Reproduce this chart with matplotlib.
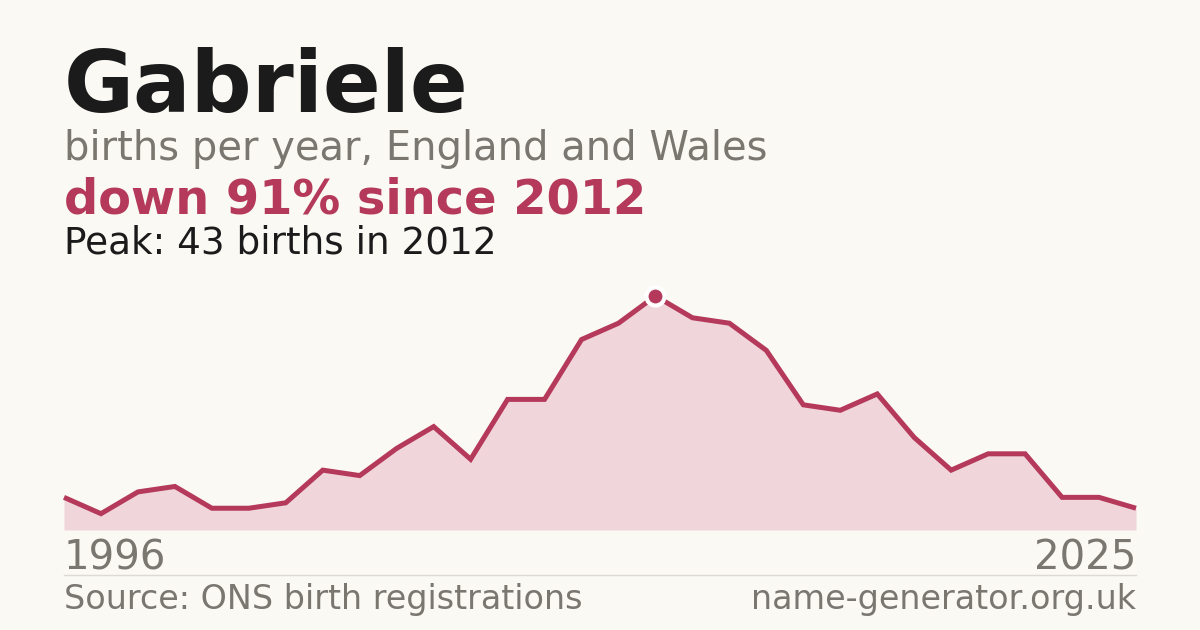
import numpy as np
import matplotlib.pyplot as plt

## births per year for Gabriele
years = np.arange(1996, 2026)
births = [6, 3, 7, 8, 4, 4, 5, 11, 10, 15, 19, 13, 24, 24, 35,
          38, 43, 39, 38, 33, 23, 22, 25, 17, 11, 14, 14, 6, 6, 4]

name = "Gabriele"
subtitle = "births per year, England and Wales"
headline = "down 91% since 2012"
peak_text = "Peak: 43 births in 2012"
source = "Source: ONS birth registrations"
site = "name-generator.org.uk"

bg = '#faf9f4'
red = '#b5395a'
fill = '#f0d5da'
grey = '#7a7670'
dark = '#1b1b1b'

W, H = 1200, 630
fig = plt.figure(figsize=(W / 100, H / 100), dpi=100, facecolor=bg)

def fy(px):  ## pixel row from top -> figure fraction
    return 1 - px / H

## plot area: 1996 at x=64, 2025 at x=1136, zero at y=530, peak at y=296
ax = fig.add_axes([64 / W, fy(530), 1072 / W, (530 - 296) / H])
ax.set_facecolor(bg)
ax.fill_between(years, births, 0, color=fill, lw=0)
ax.plot(years, births, color=red, lw=3.6, solid_joinstyle='miter',
        solid_capstyle='butt', clip_on=False)
i = int(np.argmax(births))
ax.plot(years[i], births[i], 'o', ms=13, mfc=red, mec='white', mew=3, clip_on=False, zorder=5)
ax.set_xlim(years[0], years[-1])
ax.set_ylim(0, max(births))
ax.axis('off')

## texts
fig.text(64 / W, fy(112), name, fontsize=61.5, fontweight='bold', color=dark, va='baseline')
fig.text(64 / W, fy(160), subtitle, fontsize=28.8, color=grey, va='baseline')
fig.text(64 / W, fy(214), headline, fontsize=34.5, fontweight='bold', color=red, va='baseline')
fig.text(64 / W, fy(254), peak_text, fontsize=26.9, color=dark, va='baseline')

fig.text(64 / W, fy(570), str(years[0]), fontsize=29, color=grey, va='baseline')
fig.text(1136 / W, fy(570), str(years[-1]), fontsize=29, color=grey, va='baseline', ha='right')

fig.add_artist(plt.Line2D([64 / W, 1136 / W], [fy(574.5), fy(574.5)], color='#dddad4', lw=1))

fig.text(64 / W, fy(609), source, fontsize=24, color=grey, va='baseline')
fig.text(1136 / W, fy(609), site, fontsize=24, color=grey, va='baseline', ha='right')

plt.savefig('out.png', dpi=100, facecolor=bg)
